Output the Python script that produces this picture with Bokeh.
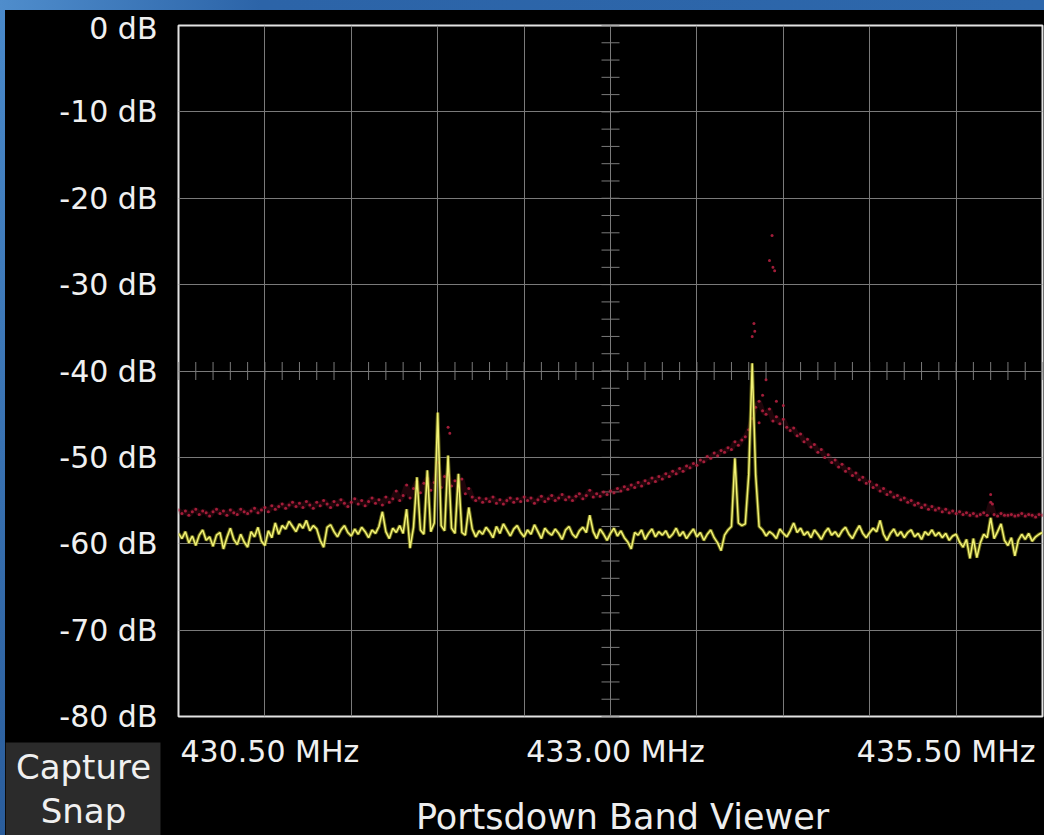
import numpy as np
from bokeh.plotting import figure
from bokeh.layouts import column
from bokeh.models import Range1d, FixedTicker, PrintfTickFormatter
from bokeh.core.properties import value
from bokeh.embed import file_html
from bokeh.resources import INLINE

# ---------------- data ----------------
F_START, F_STOP, F_STEP = 430.5, 435.5, 0.02
CENTER_FREQ = 433.0
REF_LEVEL = -40.0
DB_MIN, DB_MAX = -80, 0
freq = np.round(np.arange(F_START, F_STOP + F_STEP / 2, F_STEP), 3)

# live trace (yellow), dB, one value per 0.02 MHz
live_db = [
    -58.8, -59.4, -58.6, -59.9, -59.1, -60.2, -59.0, -58.4, -59.6, -59.2,
    -60.3, -59.0, -58.7, -60.6, -59.3, -58.2, -59.5, -60.1, -58.9, -59.8,
    -60.4, -58.6, -59.2, -58.1, -59.7, -60.2, -58.5, -59.3, -57.6, -58.9,
    -57.9, -58.3, -57.4, -58.0, -58.6, -57.7, -58.2, -57.3, -58.5, -57.9,
    -58.3, -59.6, -60.4, -58.1, -57.8, -58.6, -59.2, -58.4, -57.9, -58.7,
    -59.1, -58.3, -58.9, -58.1, -58.6, -59.3, -58.4, -58.8, -58.0, -56.3,
    -58.6, -59.4, -58.2, -58.7, -57.9, -58.8, -56.0, -60.5, -58.1, -52.3,
    -58.4, -58.9, -51.5, -58.6, -57.6, -44.8, -57.9, -58.5, -49.8, -58.2,
    -58.8, -51.9, -58.7, -59.0, -55.8, -58.3, -59.2, -58.5, -58.9, -58.1,
    -58.6, -59.3, -58.0, -58.8, -57.7, -58.4, -59.1, -58.3, -57.9, -58.7,
    -59.2, -58.4, -58.9, -57.8, -58.6, -59.4, -58.2, -58.7, -59.0, -58.3,
    -58.8, -59.5, -58.4, -58.0, -58.9, -59.3, -58.5, -58.1, -58.7, -56.7,
    -58.6, -59.4, -58.3, -58.9, -59.6, -58.8, -58.2, -59.1, -58.5, -59.3,
    -59.8, -60.6, -58.7, -59.0, -58.4, -59.5, -58.8, -58.3, -59.2, -58.6,
    -59.0, -58.5, -59.3, -58.9, -58.2, -59.1, -58.6, -59.4, -58.8, -58.3,
    -59.2, -58.7, -59.6, -58.9, -58.4, -59.3, -59.9, -60.8, -59.0, -58.4,
    -58.0, -50.1, -57.6, -57.9, -57.7, -52.0, -39.1, -52.0, -58.0, -58.4,
    -59.1, -58.6, -58.9, -59.4, -58.3, -58.8, -59.2, -58.5, -57.6, -58.7,
    -58.2, -59.0, -58.6, -59.3, -58.4, -58.9, -59.5, -58.7, -58.2, -59.0,
    -58.6, -59.2, -58.5, -58.1, -58.9, -59.4, -58.6, -57.9, -58.8, -59.3,
    -58.7, -58.2, -58.6, -57.3, -58.9, -59.6, -58.8, -58.3, -59.1, -58.6,
    -59.3, -58.7, -58.4, -59.2, -58.8, -59.5, -58.6, -59.0, -58.4, -59.1,
    -58.7, -59.3, -58.8, -59.6, -59.1, -58.9, -59.8, -60.4, -59.5, -61.7,
    -59.4, -61.6, -59.9, -58.9, -59.3, -57.0, -59.4, -58.6, -57.7, -59.6,
    -60.2, -59.3, -61.4, -59.6, -58.9, -59.5, -58.8, -59.7, -59.2, -58.9,
    -58.7,
]

# peak / persistence dots (red), dB, one value per 0.02 MHz
peak_db = [
    -56.1, -56.5, -56.2, -56.7, -56.3, -56.0, -56.6, -56.2, -56.4, -56.8,
    -56.3, -56.0, -56.5, -56.2, -56.7, -56.1, -56.4, -56.6, -56.0, -56.3,
    -56.5, -56.2, -55.9, -56.4, -56.1, -55.8, -56.3, -55.6, -56.0, -55.7,
    -55.4, -55.9, -55.5, -55.2, -55.7, -55.3, -55.8, -55.1, -55.5, -55.9,
    -55.2, -55.6, -55.0, -55.4, -55.8, -55.1, -55.5, -54.9, -55.3, -55.7,
    -55.2, -54.8, -55.4, -55.0, -55.6, -55.1, -54.7, -55.3, -54.9, -55.5,
    -54.6, -55.2, -54.8, -53.9, -55.0, -54.4, -53.2, -54.7, -53.6, -52.8,
    -54.1, -53.0, -52.4, -53.8, -52.9, -50.6, -53.5, -52.2, -52.0, -53.3,
    -52.7, -53.9, -52.5, -54.2, -53.6, -54.6, -55.0, -54.7, -55.2, -54.8,
    -55.1, -54.6, -55.3, -54.9, -55.4, -55.0, -54.7, -55.2, -54.8, -55.1,
    -54.6, -55.0, -54.7, -55.3, -54.9, -54.5, -55.1, -54.8, -54.4, -55.0,
    -54.7, -54.3, -54.9, -54.6, -55.0, -54.5, -54.2, -54.8, -54.4, -53.8,
    -54.6, -54.2, -54.5, -54.0, -54.3, -53.9, -54.1, -53.6, -53.9, -53.4,
    -53.7, -53.2, -53.5, -52.9, -53.3, -52.7, -53.0, -52.4, -52.8, -52.2,
    -52.5, -51.9, -52.2, -51.6, -51.9, -51.3, -51.6, -51.0, -51.2, -50.7,
    -50.9, -50.3, -50.5, -49.9, -50.1, -49.5, -49.8, -49.2, -49.4, -48.9,
    -49.1, -48.2, -48.6, -48.0, -47.6, -46.8, -45.5, -44.2, -43.5, -44.6,
    -45.0, -44.4, -45.8, -45.3, -46.1, -45.6, -46.5, -46.9, -46.6, -47.5,
    -47.3, -48.2, -47.9, -48.8, -48.5, -49.4, -49.1, -50.0, -49.7, -50.6,
    -50.3, -51.1, -50.8, -51.6, -51.3, -52.1, -51.8, -52.6, -52.3, -53.0,
    -52.8, -53.5, -53.2, -53.9, -53.6, -54.3, -54.0, -54.6, -54.4, -54.9,
    -54.7, -55.2, -55.0, -55.5, -55.3, -55.8, -55.5, -56.0, -55.7, -56.1,
    -55.9, -56.3, -56.0, -56.4, -56.2, -56.5, -56.3, -56.6, -56.4, -56.7,
    -56.5, -56.8, -56.6, -56.4, -56.7, -55.2, -56.6, -56.8, -56.5, -56.7,
    -56.7, -56.6, -56.8, -56.7, -56.5, -56.8, -56.6, -56.7, -56.9, -56.6,
    -56.7,
]

# isolated red dots around the carriers
stray_freq = [433.82, 433.83, 433.835, 433.92, 433.94, 433.95, 433.935, 433.90, 433.88,
              433.96, 433.86, 434.00, 435.20, 435.21, 432.06, 432.07]
stray_db = [-36.0, -34.5, -35.4, -27.2, -28.0, -28.4, -24.3, -41.0, -42.8,
            -43.5, -46.0, -44.0, -54.3, -55.4, -46.5, -47.2]

db_ticks = list(range(DB_MIN, DB_MAX + 1, 10))
freq_grid = [430.5, 431.0, 431.5, 432.0, 432.5, 433.0, 433.5, 434.0, 434.5, 435.0, 435.5]
freq_tick_values = [430.5, 433.0, 435.5]
freq_tick_labels = ["430.50 MHz", "433.00 MHz", "435.50 MHz"]
freq_tick_aligns = ["left", "center", "right"]
title_text = "Portsdown Band Viewer"
button_lines = ["Capture", "Snap"]

FONT = "DejaVu Sans"
TEXT_COLOR = "#f0f0f0"
GRID_COLOR = "#7a7a7a"

# ---------------- layout sizes (px) ----------------
W = 1039           # page offset 5px (blue strip on the left)
H1 = 724           # main spectrum panel
H2 = 101           # bottom status strip
BL, BR, BT = 173, 2, 15
FRAME_H = 691
BB = H1 - BT - FRAME_H

# ---------------- main spectrum figure ----------------
p = figure(width=W, height=H1,
           x_range=Range1d(F_START, F_STOP), y_range=Range1d(DB_MIN, DB_MAX),
           output_backend="svg", toolbar_location=None, tools="",
           x_axis_location=None,
           min_border_left=BL, min_border_right=BR, min_border_top=BT, min_border_bottom=BB,
           background_fill_color="black", border_fill_color="black")
p.outline_line_color = "#e2e2e2"
p.outline_line_width = 2

yax = p.yaxis[0]
yax.ticker = FixedTicker(ticks=db_ticks)
yax.formatter = PrintfTickFormatter(format="%d dB")
yax.major_tick_out = 0
yax.major_tick_in = 0
yax.minor_tick_out = 0
yax.minor_tick_in = 0
yax.axis_line_color = None
yax.major_label_standoff = 21
yax.major_label_text_font = FONT
yax.major_label_text_font_size = "30px"
yax.major_label_text_color = TEXT_COLOR

p.xgrid.ticker = FixedTicker(ticks=freq_grid)
p.ygrid.ticker = FixedTicker(ticks=db_ticks)
for g in (p.xgrid, p.ygrid):
    g.grid_line_color = GRID_COLOR
    g.grid_line_width = 1

# centre cross graticule ticks
cross_db = np.arange(DB_MIN, DB_MAX + 0.1, 2.0)
p.scatter(x=np.full(len(cross_db), CENTER_FREQ), y=cross_db, marker="dash",
          size=18, line_color=GRID_COLOR, line_width=1)
cross_f = np.arange(F_START, F_STOP + 0.05, 0.1)
p.scatter(x=cross_f, y=np.full(len(cross_f), REF_LEVEL), marker="dash", angle=np.pi / 2,
          size=18, line_color=GRID_COLOR, line_width=1)

# red persistence dots
p.line(x=freq, y=peak_db, line_color="#7a1428", line_width=5, line_alpha=0.25)
p.scatter(x=freq, y=peak_db, size=3, fill_color="#b3203f", line_color=None, alpha=0.9)
p.scatter(x=stray_freq, y=stray_db, size=3, fill_color="#b3203f", line_color=None, alpha=0.9)

# yellow live trace
p.line(x=freq, y=live_db, line_color="#8f8f1e", line_width=3.5, line_alpha=0.7)
p.line(x=freq, y=live_db, line_color="#f2f276", line_width=1.5)

# ---------------- bottom strip (labels, title, button) ----------------
px_per_mhz = (W - BL - BR) / (F_STOP - F_START)
bx0 = F_START - BL / px_per_mhz
bx1 = F_STOP + BR / px_per_mhz

b = figure(width=W, height=H2,
           x_range=Range1d(bx0, bx1), y_range=Range1d(H2, 0),
           output_backend="svg", toolbar_location=None, tools="",
           x_axis_location=None, y_axis_location=None, min_border=0,
           background_fill_color="black", border_fill_color="black")
b.outline_line_color = None
b.grid.visible = False
b.frame_align = False

# frequency labels
offsets = [2, 5, -7]
for fv, txt, al, off in zip(freq_tick_values, freq_tick_labels, freq_tick_aligns, offsets):
    b.text(x=[fv], y=[17], text=[txt], text_align=al, text_baseline="middle", x_offset=off,
           text_font=value(FONT), text_font_size=value("30px"), text_color=TEXT_COLOR)

# title
b.text(x=[bx0 + 617 / px_per_mhz], y=[82], text=[title_text], text_align="center",
       text_baseline="middle", text_font=value(FONT), text_font_size=value("35px"),
       text_color="#eeeeee")

# Capture / Snap button
b.quad(left=[bx0], right=[bx0 + 155 / px_per_mhz], top=[8], bottom=[H2],
       fill_color="#2b2b2b", line_color=None)
b.text(x=[bx0 + 78 / px_per_mhz] * 2, y=[32, 76], text=button_lines, text_align="center",
       text_baseline="middle", text_font=value(FONT), text_font_size=value("34px"),
       text_color=TEXT_COLOR)

layout = column(p, b, spacing=0)

TEMPLATE = """
{% block postamble %}
<style>
html, body { margin: 0; padding: 0; box-sizing: border-box; height: 100%; overflow: hidden; }
html { background: linear-gradient(to right, #4f8dcc, #2c64a8 25%, #2d67ab) 0 0 / 100% 10px no-repeat,
                   linear-gradient(#4a8acb, #2a5d9c) 0 0 / 5px 100% no-repeat, #000; }
body { padding: 10px 0 0 5px; }
</style>
{% endblock %}
"""

open("out.html", "w").write(file_html(layout, INLINE, template=TEMPLATE))
